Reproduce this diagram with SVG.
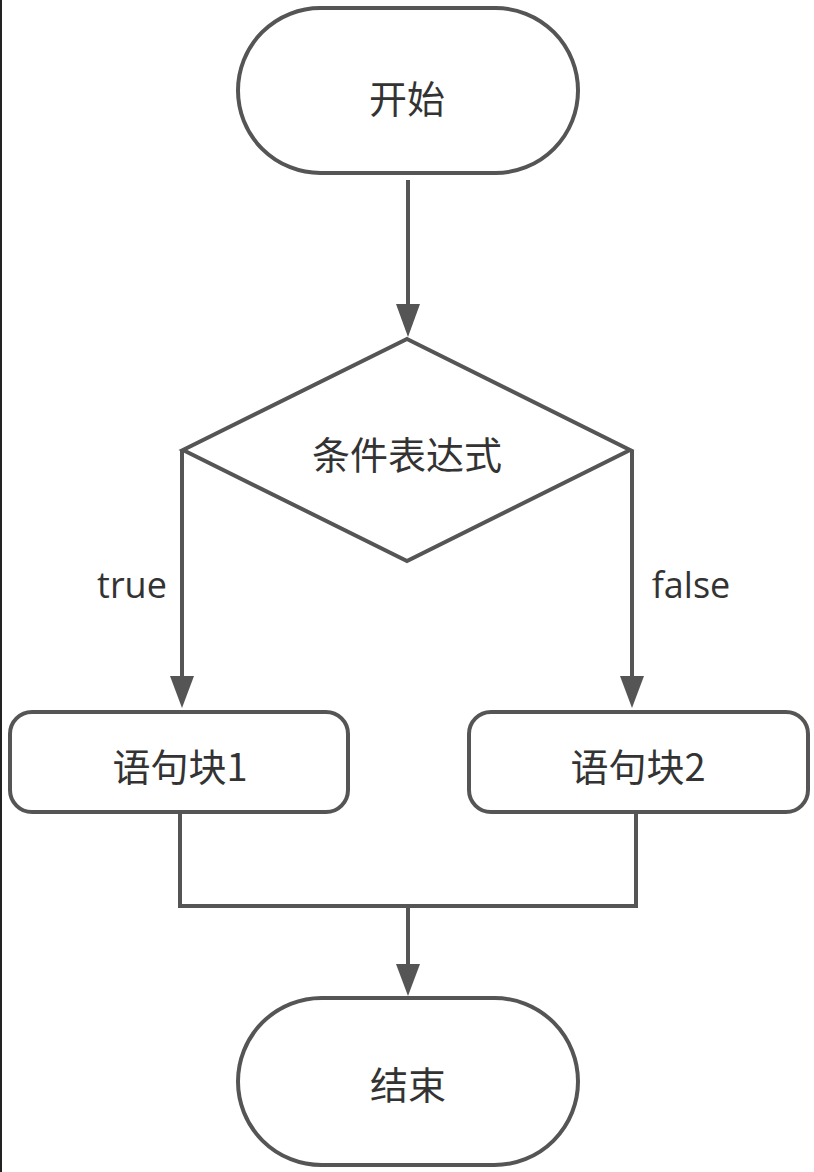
<svg xmlns="http://www.w3.org/2000/svg" width="814" height="1172" viewBox="0 0 814 1172">
<style>
.shape{fill:#fff;stroke:#555;stroke-width:4}
.conn{fill:none;stroke:#555;stroke-width:4}
.head{fill:#555}
.t{font-family:"Noto Sans CJK SC","Noto Sans",sans-serif;font-size:38px;fill:#333;text-anchor:middle;dominant-baseline:central}
.lbl{font-family:"Open Sans","Noto Sans",sans-serif;font-size:36px;fill:#333;text-anchor:middle;dominant-baseline:central}
</style>
<rect width="814" height="1172" fill="#fff"/>
<line x1="1" y1="0" x2="1" y2="1172" stroke="#222" stroke-width="2"/>
<g id="connectors">
<line class="conn" x1="408" y1="180" x2="408" y2="310"/>
<path class="head" d="M396,304 L420,304 L408,337 Z"/>
<path class="conn" d="M182,450 L182,680"/>
<path class="head" d="M170,676 L194,676 L182,708 Z"/>
<path class="conn" d="M632,450 L632,680"/>
<path class="head" d="M620,676 L644,676 L632,708 Z"/>
<path class="conn" d="M180,812 L180,906 L636,906 L636,812"/>
<line class="conn" x1="408" y1="906" x2="408" y2="970"/>
<path class="head" d="M396,964 L420,964 L408,996 Z"/>
<text class="lbl" x="132" y="584">true</text>
<text class="lbl" x="691" y="584">false</text>
</g>
<g id="start">
<rect class="shape" x="238" y="8" width="340" height="165" rx="82.5"/>
<text class="t" x="407" y="96">开始</text>
</g>
<g id="condition">
<polygon class="shape" points="407,339 630,450 407,561 183,450"/>
<text class="t" x="407" y="452">条件表达式</text>
</g>
<g id="block1">
<rect class="shape" x="10" y="712" width="338" height="100" rx="22"/>
<text class="t" x="180" y="764">语句块1</text>
</g>
<g id="block2">
<rect class="shape" x="469" y="712" width="339" height="100" rx="22"/>
<text class="t" x="638" y="764">语句块2</text>
</g>
<g id="end">
<rect class="shape" x="238" y="998" width="340" height="167" rx="83.5"/>
<text class="t" x="408" y="1082">结束</text>
</g>
</svg>
